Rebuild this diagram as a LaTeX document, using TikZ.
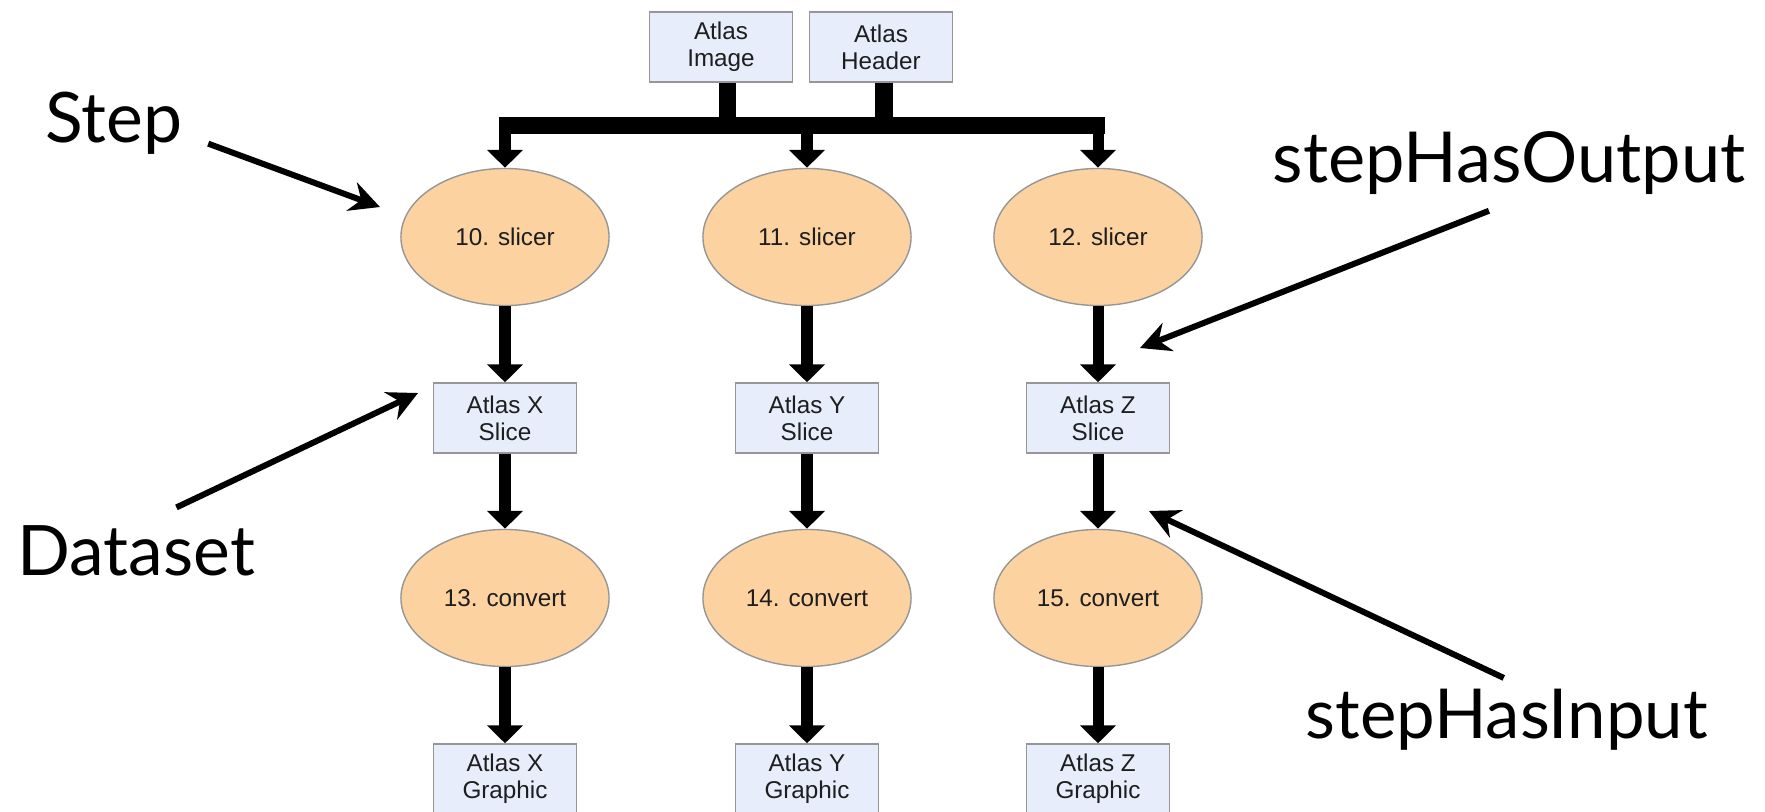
\documentclass[tikz,border=0pt]{standalone}
\usepackage{fontspec}
\setmainfont{Liberation Sans}
\newfontfamily\notefont{Lato}
\usetikzlibrary{arrows.meta,shapes.geometric}

\definecolor{stepfill}{RGB}{252,210,160}
\definecolor{datafill}{RGB}{232,237,252}
\definecolor{edgegray}{RGB}{150,150,150}
\definecolor{inktext}{RGB}{30,30,30}

\tikzset{
  stepnode/.style={ellipse, draw=edgegray, fill=stepfill, text=inktext,
    minimum width=2.08cm, minimum height=1.37cm, inner sep=0pt,
    font=\fontsize{6.9}{7.7}\selectfont},
  datanode/.style={rectangle, draw=edgegray, fill=datafill, text=inktext,
    minimum width=1.43cm, minimum height=0.70cm, inner sep=0pt, align=center,
    font=\fontsize{6.9}{7.7}\selectfont},
  bus/.style={line width=0.17cm},
  flow/.style={line width=0.11cm, -{Triangle[width=0.35cm,length=0.18cm]}},
  note/.style={line width=0.06cm, -{Stealth[width=0.3cm,length=0.3cm,inset=0.1cm]}},
  notetext/.style={anchor=base west, inner sep=0pt}
}

\begin{document}
\begin{tikzpicture}[x=0.01cm, y=-0.01cm]
    \useasboundingbox (0,0) rectangle (1765,811);

    % Atlas inputs
    \node[datanode] (img) at (721,47) {Atlas\\Image};
    \node[datanode] (hdr) at (881,47) {Atlas\\Header};

    % Bus into the slicers
    \coordinate (busL) at (505,125);
    \coordinate (busR) at (1098,125);
    \draw[bus] ([xshift=0.065cm]img.south) -- ([xshift=0.065cm]img.south |- busL);
    \draw[bus] ([xshift=0.03cm]hdr.south) -- ([xshift=0.03cm]hdr.south |- busL);
    \draw[bus] ([xshift=-0.06cm]busL) -- ([xshift=0.07cm]busR);

    % One column per axis: slicer, slice, convert, graphic
    \foreach \c/\x/\s/\v in {X/505/10/13, Y/807/11/14, Z/1098/12/15} {
        \node[stepnode] (s\s) at (\x,237) {\s. slicer};
        \node[datanode] (slice\c) at (\x,418) {Atlas \c\\Slice};
        \node[stepnode] (s\v) at (\x,598) {\v. convert};
        \node[datanode] (graphic\c) at (\x,779) {Atlas \c\\Graphic};
        \draw[flow] (s\s.north |- busL) -- (s\s);
        \draw[flow] (s\s) -- (slice\c);
        \draw[flow] (slice\c) -- (s\v);
        \draw[flow] (s\v) -- (graphic\c);
      }

    % Annotation labels
    \node[notetext, font=\notefont\fontsize{19.8}{24}\selectfont] (lStep) at (45,142) {Step};
    \node[notetext, font=\notefont\fontsize{19.8}{24}\selectfont] (lData) at (17,575) {Dataset};
    \node[notetext, font=\notefont\fontsize{20}{24}\selectfont] (lOut) at (1272,182) {stepHasOutput};
    \node[notetext, font=\notefont\fontsize{19.6}{24}\selectfont] (lIn) at (1305,738) {stepHasInput};

    % Annotation arrows
    \coordinate (tStep) at (380,207);
    \coordinate (tData) at (418,393);
    \coordinate (tOut) at (1140,348);
    \coordinate (tIn) at (1149,511);
    \draw[note] ([xshift=0.25cm,yshift=0.11cm]lStep.south east) -- (tStep);
    \draw[note] ([xshift=0.4cm,yshift=0.17cm]lData.north) -- (tData);
    \draw[note] ([xshift=-0.2cm,yshift=-0.16cm]lOut.south) -- (tOut);
    \draw[note] ([xshift=-0.03cm,yshift=0.1cm]lIn.north) -- (tIn);
  \end{tikzpicture}
\end{document}
